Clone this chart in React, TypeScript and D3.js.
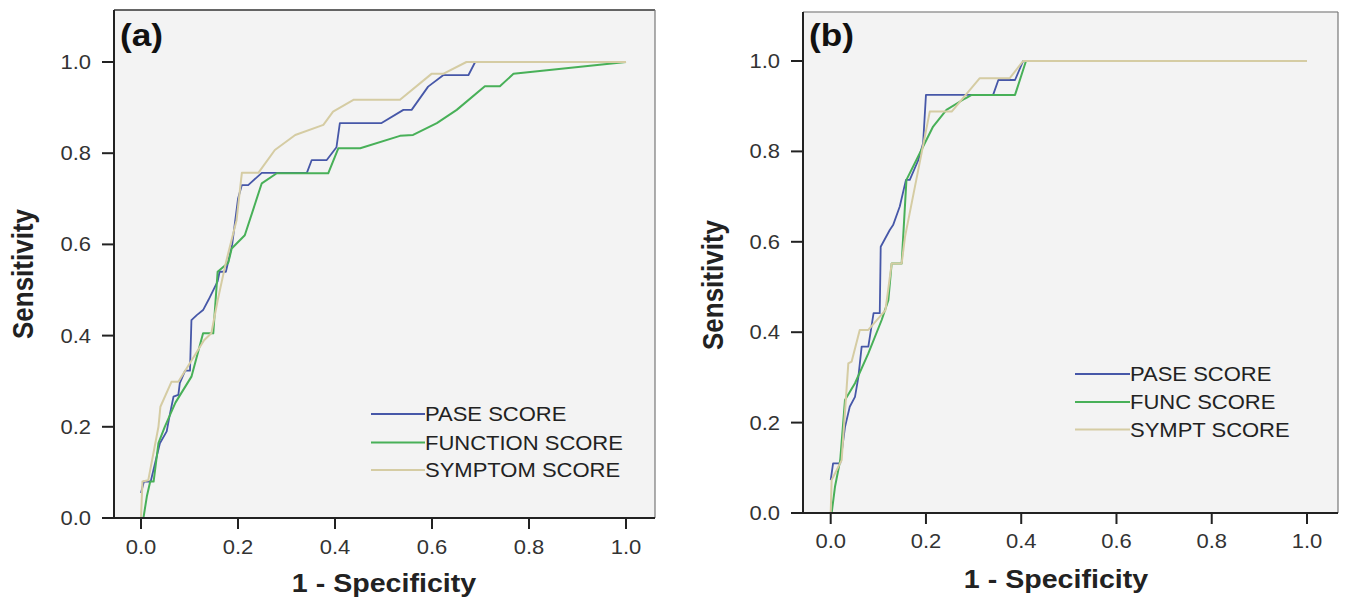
import * as d3 from "d3";

type Pt = [number, number];

// tick values shared by both axes of both panels
const tickValues = [0, 0.2, 0.4, 0.6, 0.8, 1.0];

// panel (a) ROC curves, [1 - specificity, sensitivity]
const paseA: Pt[] = [
  [0, 0.055], [0.006, 0.08], [0.02, 0.08], [0.029, 0.12], [0.039, 0.164], [0.053, 0.19],
  [0.06, 0.23], [0.067, 0.266], [0.077, 0.27], [0.08, 0.296], [0.091, 0.323], [0.101, 0.323],
  [0.104, 0.434], [0.115, 0.445], [0.128, 0.456], [0.139, 0.478], [0.158, 0.519], [0.162, 0.54],
  [0.175, 0.54], [0.188, 0.6], [0.2, 0.7], [0.208, 0.73], [0.221, 0.73], [0.249, 0.757],
  [0.342, 0.757], [0.352, 0.785], [0.383, 0.785], [0.403, 0.813], [0.41, 0.866], [0.496, 0.866],
  [0.541, 0.895], [0.558, 0.895], [0.592, 0.946], [0.623, 0.971], [0.675, 0.971], [0.689, 1.0],
  [1.0, 1.0],
];
const functionA: Pt[] = [
  [0.005, 0], [0.012, 0.047], [0.019, 0.08], [0.026, 0.08], [0.036, 0.164], [0.049, 0.2],
  [0.071, 0.253], [0.104, 0.31], [0.128, 0.405], [0.149, 0.405], [0.158, 0.54], [0.18, 0.56],
  [0.187, 0.591], [0.214, 0.62], [0.249, 0.734], [0.28, 0.756], [0.386, 0.756], [0.407, 0.811],
  [0.452, 0.811], [0.534, 0.838], [0.561, 0.84], [0.61, 0.866], [0.651, 0.895], [0.709, 0.947],
  [0.74, 0.947], [0.768, 0.974], [1.0, 1.0],
];
const symptomA: Pt[] = [
  [0, 0], [0.003, 0.08], [0.015, 0.083], [0.036, 0.2], [0.04, 0.244], [0.063, 0.299],
  [0.077, 0.299], [0.13, 0.39], [0.145, 0.405], [0.158, 0.477], [0.175, 0.56], [0.197, 0.653],
  [0.208, 0.757], [0.242, 0.757], [0.276, 0.807], [0.318, 0.84], [0.376, 0.862], [0.396, 0.891],
  [0.438, 0.917], [0.534, 0.917], [0.599, 0.974], [0.623, 0.974], [0.671, 1.0], [1.0, 1.0],
];

// panel (b)
const paseB: Pt[] = [
  [0, 0.073], [0.005, 0.11], [0.02, 0.11], [0.03, 0.19], [0.04, 0.235], [0.051, 0.257],
  [0.058, 0.3], [0.065, 0.368], [0.079, 0.368], [0.09, 0.442], [0.103, 0.442], [0.105, 0.589],
  [0.124, 0.626], [0.131, 0.637], [0.145, 0.678], [0.158, 0.737], [0.166, 0.737], [0.184, 0.781],
  [0.194, 0.818], [0.2, 0.925], [0.341, 0.925], [0.352, 0.958], [0.387, 0.958], [0.404, 1.0],
  [1.0, 1.0],
];
const funcB: Pt[] = [
  [0.002, 0], [0.009, 0.058], [0.02, 0.117], [0.03, 0.25], [0.051, 0.287], [0.079, 0.353],
  [0.107, 0.427], [0.121, 0.471], [0.128, 0.552], [0.149, 0.552], [0.159, 0.737], [0.187, 0.796],
  [0.215, 0.855], [0.243, 0.892], [0.282, 0.917], [0.296, 0.925], [0.387, 0.925], [0.41, 1.0],
  [1.0, 1.0],
];
const symptB: Pt[] = [
  [0, 0], [0.002, 0.073], [0.023, 0.117], [0.037, 0.331], [0.044, 0.335], [0.061, 0.405],
  [0.079, 0.405], [0.115, 0.449], [0.128, 0.552], [0.149, 0.552], [0.156, 0.611], [0.208, 0.888],
  [0.254, 0.888], [0.313, 0.962], [0.376, 0.962], [0.404, 1.0], [1.0, 1.0],
];

const labelsA = ["PASE SCORE", "FUNCTION SCORE", "SYMPTOM SCORE"];
const labelsB = ["PASE SCORE", "FUNC SCORE", "SYMPT SCORE"];
const colors = ["#4657a8", "#48b058", "#d5cca3"];
const widths = [1.8, 2, 2];

const FONT = "'Liberation Sans', Arial, Helvetica, sans-serif";
const SX = 1.1; // the source picture is a bit wider than tall

type Layout = {
  left: number; top: number; right: number; bottom: number;
  x0: number; x1: number; y0: number; y1: number;
  tag: string;
  topStroke: string;
  legX1: number; legX2: number; legY: number[];
  yTitleX: number; yTitleY: number;
  xTitleX: number; xTitleY: number;
  xLabY: number; yLabX: number;
};

const layoutA: Layout = {
  left: 114, top: 10, right: 655, bottom: 518,
  x0: 141, x1: 626, y0: 518, y1: 62,
  tag: "(a)", topStroke: "#333",
  legX1: 371, legX2: 425, legY: [414, 442.5, 470],
  yTitleX: 33, yTitleY: 274,
  xTitleX: 384, xTitleY: 592,
  xLabY: 554, yLabX: 91,
};
const layoutB: Layout = {
  left: 803, top: 12, right: 1338, bottom: 513,
  x0: 830.7, x1: 1307, y0: 513, y1: 61,
  tag: "(b)", topStroke: "#999",
  legX1: 1075, legX2: 1130, legY: [374, 402, 429.5],
  yTitleX: 723, yTitleY: 285,
  xTitleX: 1056, xTitleY: 588,
  xLabY: 548, yLabX: 780,
};

function Stretch({ x, y, children, ...rest }: any) {
  return (
    <text transform={`translate(${x},${y}) scale(${SX},1)`} {...rest}>
      {children}
    </text>
  );
}

function Panel({ L, series, labels }: { L: Layout; series: Pt[][]; labels: string[] }) {
  const x = d3.scaleLinear().domain([0, 1]).range([L.x0, L.x1]);
  const y = d3.scaleLinear().domain([0, 1]).range([L.y0, L.y1]);
  const line = d3.line<Pt>().x((d) => x(d[0])).y((d) => y(d[1]));
  const fmt = d3.format(".1f");

  return (
    <g fontFamily={FONT}>
      <rect x={L.left} y={L.top} width={L.right - L.left} height={L.bottom - L.top} fill="#f3f3f3" />
      <line x1={L.left} x2={L.right} y1={L.top} y2={L.top} stroke={L.topStroke} strokeWidth={1.6} />
      <line x1={L.right} x2={L.right} y1={L.top} y2={L.bottom} stroke="#777" strokeWidth={1.2} />

      {series.map((s, i) => (
        <path key={i} d={line(s) ?? ""} fill="none" stroke={colors[i]} strokeWidth={widths[i]} strokeLinejoin="round" />
      ))}

      {/* axes */}
      <line x1={L.left} x2={L.left} y1={L.top} y2={L.bottom} stroke="#222" strokeWidth={2} />
      <line x1={L.left} x2={L.right} y1={L.bottom} y2={L.bottom} stroke="#222" strokeWidth={2} />
      {tickValues.map((t) => (
        <g key={"y" + t}>
          <line x1={L.left - 12} x2={L.left} y1={y(t)} y2={y(t)} stroke="#222" strokeWidth={2} />
          <Stretch x={L.yLabX} y={y(t) + 7} textAnchor="end" fontSize={20} fill="#333">{fmt(t)}</Stretch>
        </g>
      ))}
      {tickValues.map((t) => (
        <g key={"x" + t}>
          <line x1={x(t)} x2={x(t)} y1={L.bottom} y2={L.bottom + 11} stroke="#222" strokeWidth={2} />
          <Stretch x={x(t)} y={L.xLabY} textAnchor="middle" fontSize={20} fill="#333">{fmt(t)}</Stretch>
        </g>
      ))}

      {/* legend */}
      {labels.map((lab, i) => (
        <g key={lab}>
          <line x1={L.legX1} x2={L.legX2} y1={L.legY[i]} y2={L.legY[i]} stroke={colors[i]} strokeWidth={2} />
          <Stretch x={L.legX2} y={L.legY[i] + 7.3} fontSize={20} fill="#222">{lab}</Stretch>
        </g>
      ))}

      <Stretch x={L.left + 6} y={46} fontSize={32} fontWeight="bold" fill="#111">{L.tag}</Stretch>

      <text
        transform={`translate(${L.yTitleX},${L.yTitleY}) scale(${SX},1) rotate(-90)`}
        textAnchor="middle" fontSize={26} fontWeight="bold" fill="#222"
      >
        Sensitivity
      </text>
      <Stretch x={L.xTitleX} y={L.xTitleY} textAnchor="middle" fontSize={26} fontWeight="bold" fill="#222">
        1 - Specificity
      </Stretch>
    </g>
  );
}

export default function App() {
  return (
    <svg
      width={1350}
      height={604}
      style={{ position: "absolute", left: 0, top: 0, background: "#fff", display: "block" }}
    >
      <Panel L={layoutA} series={[paseA, functionA, symptomA]} labels={labelsA} />
      <Panel L={layoutB} series={[paseB, funcB, symptB]} labels={labelsB} />
    </svg>
  );
}
